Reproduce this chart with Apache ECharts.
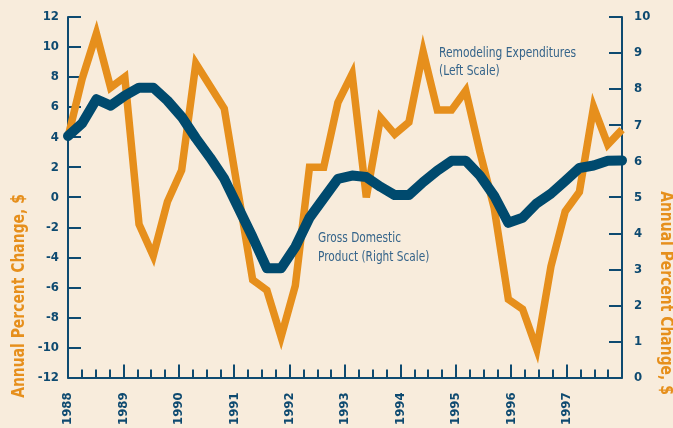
<!DOCTYPE html>
<html>
<head>
<meta charset="utf-8">
<script src="https://cdn.jsdelivr.net/npm/echarts@6/dist/echarts.min.js"></script>
<style>
html,body{margin:0;padding:0;background:#f8ecdc;}
#c{width:673px;height:428px;}
</style>
</head>
<body>
<div id="c"></div>
<script>
// Year tick labels (visible axis)
const yearLabels = [1988, 1989, 1990, 1991, 1992, 1993, 1994, 1995, 1996, 1997];
// Quarterly categories for the data
const quarters = yearLabels.flatMap(y => ['Q1', 'Q2', 'Q3', 'Q4'].map(q => y + q));
// Remodeling expenditures, annual % change (left scale)
const remodeling = [4.0, 7.9, 10.9, 7.3, 8.0, -1.8, -3.9, -0.3, 1.8, 8.9,
                    7.4, 5.9, 0.2, -5.5, -6.2, -9.3, -5.9, 2.0, 2.0, 6.3,
                    8.2, 0.0, 5.3, 4.2, 5.0, 9.7, 5.8, 5.8, 7.1, 3.0,
                    -0.7, -6.8, -7.45, -10.1, -4.6, -0.95, 0.35, 6.0, 3.5, 4.5];
// Gross domestic product, annual % change (right scale)
const gdp = [6.7, 7.05, 7.72, 7.54, 7.82, 8.04, 8.04, 7.68, 7.23, 6.64,
             6.10, 5.51, 4.70, 3.89, 3.03, 3.03, 3.62, 4.43, 4.97, 5.51,
             5.60, 5.56, 5.29, 5.06, 5.06, 5.42, 5.74, 6.01, 6.01, 5.6,
             5.04, 4.29, 4.43, 4.83, 5.1, 5.45, 5.81, 5.88, 6.01, 6.02];
const leftTicks = {min: -12, max: 12, step: 2};
const rightTicks = {min: 0, max: 10, step: 1};

const AX = '#0e4a70';
const ORANGE = '#e68f1c';
const BLUE = '#004a6e';
const NOTE = '#35648a';
const FONT = '"Liberation Sans Narrow","DejaVu Sans Condensed","Roboto Condensed","Arial Narrow",sans-serif';

const chart = echarts.init(document.getElementById('c'), null, {renderer: 'canvas'});
const axisCommon = {
  axisLine: {show: true, onZero: false, lineStyle: {color: AX, width: 2}},
  axisTick: {show: true, inside: true, length: 13, lineStyle: {color: AX, width: 2}},
  splitLine: {show: false},
  axisLabel: {color: AX, fontFamily: FONT, fontWeight: 'bold', fontSize: 13}
};
chart.setOption({
  backgroundColor: '#f8ecdc',
  animation: false,
  grid: {left: 68, right: 51, top: 17, bottom: 41, containLabel: false},
  xAxis: [
    Object.assign({}, axisCommon, {
      type: 'value', min: 0, max: yearLabels.length * 4, interval: 4, position: 'bottom',
      minorTick: {show: true, splitNumber: 4, length: 8, lineStyle: {color: AX, width: 2}},
      minorSplitLine: {show: false},
      axisLabel: {color: AX, fontFamily: FONT, fontWeight: 'bold', fontSize: 13, rotate: 90, margin: 15,
        formatter: v => (v / 4 < yearLabels.length ? String(yearLabels[v / 4]) : '')}
    }),
    {type: 'category', data: quarters, boundaryGap: false, show: false}
  ],
  yAxis: [
    Object.assign({}, axisCommon, {
      type: 'value', position: 'left', min: leftTicks.min, max: leftTicks.max, interval: leftTicks.step,
      axisLabel: Object.assign({}, axisCommon.axisLabel, {margin: 9})
    }),
    Object.assign({}, axisCommon, {
      type: 'value', position: 'right', min: rightTicks.min, max: rightTicks.max, interval: rightTicks.step,
      axisLabel: Object.assign({}, axisCommon.axisLabel, {margin: 12})
    })
  ],
  series: [
    {name: 'Remodeling Expenditures', type: 'line', xAxisIndex: 1, yAxisIndex: 0, data: remodeling,
      symbol: 'none', lineStyle: {color: ORANGE, width: 7.5, join: 'miter', miterLimit: 5, cap: 'butt'}, z: 2},
    {name: 'Gross Domestic Product', type: 'line', xAxisIndex: 1, yAxisIndex: 1, data: gdp,
      symbol: 'none', lineStyle: {color: BLUE, width: 10, join: 'round', cap: 'round'}, z: 3}
  ],
  graphic: [
    {type: 'text', x: 20, y: 296, rotation: Math.PI / 2, scaleX: 0.91,
      style: {text: 'Annual Percent Change, $', fill: ORANGE, font: 'bold 17px ' + FONT, textAlign: 'center', textVerticalAlign: 'middle'}},
    {type: 'text', x: 665, y: 293, rotation: -Math.PI / 2, scaleX: 0.91,
      style: {text: 'Annual Percent Change, $', fill: ORANGE, font: 'bold 17px ' + FONT, textAlign: 'center', textVerticalAlign: 'middle'}},
    {type: 'text', x: 439, y: 53, scaleX: 0.85,
      style: {text: 'Remodeling Expenditures', fill: NOTE, font: '14px ' + FONT, textAlign: 'left', textVerticalAlign: 'middle'}},
    {type: 'text', x: 439, y: 71, scaleX: 0.85,
      style: {text: '(Left Scale)', fill: NOTE, font: '14px ' + FONT, textAlign: 'left', textVerticalAlign: 'middle'}},
    {type: 'text', x: 318, y: 238, scaleX: 0.84,
      style: {text: 'Gross Domestic', fill: NOTE, font: '14px ' + FONT, textAlign: 'left', textVerticalAlign: 'middle'}},
    {type: 'text', x: 318, y: 257, scaleX: 0.84,
      style: {text: 'Product (Right Scale)', fill: NOTE, font: '14px ' + FONT, textAlign: 'left', textVerticalAlign: 'middle'}}
  ]
});
</script>
</body>
</html>
